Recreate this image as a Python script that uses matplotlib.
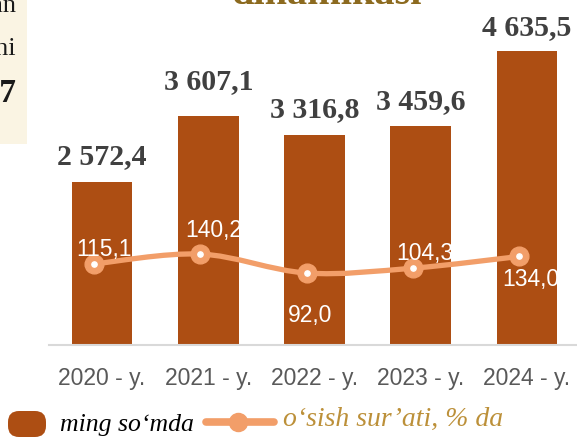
import matplotlib
matplotlib.use("Agg")
import matplotlib.pyplot as plt
from matplotlib.path import Path
from matplotlib.patches import PathPatch, FancyBboxPatch, Rectangle
from matplotlib.lines import Line2D
from matplotlib.transforms import IdentityTransform
import numpy as np

# Ma'lumotlar
years = ["2020 - y.", "2021 - y.", "2022 - y.", "2023 - y.", "2024 - y."]
amounts = [2572.4, 3607.1, 3316.8, 3459.6, 4635.5]   # ming so'mda
growth = [115.1, 140.2, 92.0, 104.3, 134.0]          # o'sish sur'ati, % da

amount_labels = ["2 572,4", "3 607,1", "3 316,8", "3 459,6", "4 635,5"]
growth_labels = ["115,1", "140,2", "92,0", "104,3", "134,0"]

BAR_COLOR = "#AD4E13"
LINE_COLOR = "#F29E69"
GOLD = "#BC9039"
SANS = "Liberation Sans"
SERIF = "Liberation Serif"

W, H = 577, 439
fig = plt.figure(figsize=(W / 100, H / 100), dpi=100)

# piksel -> figura koordinatalari
def fx(px):
    return px / W

def fy(py):
    return 1 - py / H

ax = fig.add_axes([fx(49), fy(346), fx(580) - fx(49), fy(29) - fy(346)])
x = np.arange(len(years))
ax.bar(x, amounts, width=0.57, color=BAR_COLOR, zorder=2)
ax.set_xlim(-0.5, 4.5)
ax.set_ylim(0, 5000)
for s in ["top", "left", "right"]:
    ax.spines[s].set_visible(False)
ax.spines["bottom"].set_color("#D9D9D9")
ax.spines["bottom"].set_linewidth(1.5)
ax.set_yticks([])
ax.set_xticks(x)
ax.set_xticklabels(years, family=SANS, fontsize=16.5, color="#595959")
ax.tick_params(axis="x", length=0, pad=15)

# ustun yorliqlari
bar_label_offsets = [26, 36, 26, 25, 25]
for i, (v, lab) in enumerate(zip(amounts, amount_labels)):
    ax.annotate(lab, (x[i], v), xytext=(0, bar_label_offsets[i] * 0.72),
                textcoords="offset points", ha="center", va="center",
                family=SERIF, fontweight="bold", fontsize=21.5, color="#404040")

# o'sish sur'ati chizig'i (ikkinchi o'q)
ax2 = ax.twinx()
ax2.set_ylim(-90.7, 714)
ax2.axis("off")
lx = x - 0.075

# silliq chiziq (Catmull-Rom -> Bezier)
pts = np.column_stack([lx, growth])
verts = [pts[0]]
codes = [Path.MOVETO]
for i in range(len(pts) - 1):
    p0 = pts[i - 1] if i > 0 else pts[i]
    p1 = pts[i]
    p2 = pts[i + 1]
    p3 = pts[i + 2] if i + 2 < len(pts) else pts[i + 1]
    verts += [p1 + (p2 - p0) / 6, p2 - (p3 - p1) / 6, p2]
    codes += [Path.CURVE4] * 3
ax2.add_patch(PathPatch(Path(verts, codes), fill=False, edgecolor=LINE_COLOR,
                        lw=3.8, capstyle="round", zorder=3))
ax2.plot(lx, growth, "o", ms=13.5, color=LINE_COLOR, zorder=4)
ax2.plot(lx, growth, "o", ms=3.8, color="white", zorder=5)

growth_offsets = [(10, -15), (13, -25), (4, 41), (12, -16), (12, 22)]
for i, (v, lab) in enumerate(zip(growth, growth_labels)):
    dx, dy = growth_offsets[i]
    ax2.annotate(lab, (lx[i], v), xytext=(dx * 0.72, -dy * 0.72),
                 textcoords="offset points", ha="center", va="center",
                 family=SANS, fontsize=16.5, color="white", zorder=6)

# chap tomondagi qirqilgan blok
fig.patches.append(Rectangle((0, fy(145)), fx(27), 1 - fy(145), transform=fig.transFigure,
                             facecolor="#FAF4E3", edgecolor="none", zorder=0))
fig.text(fx(16), fy(12), "daromadlar o‘sgan", ha="right", va="baseline",
         family=SERIF, fontsize=19, color="#1a1a1a")
fig.text(fx(16), fy(55), "o‘sishi", ha="right", va="baseline",
         family=SERIF, fontsize=19, color="#1a1a1a")
fig.text(fx(16), fy(102), "137", ha="right", va="baseline",
         family=SERIF, fontweight="bold", fontsize=24, color="#1a1a1a")

# qirqilgan sarlavha
fig.text(fx(327), fy(4), "dinamikasi", ha="center", va="baseline",
         family=SERIF, fontweight="bold", fontsize=29, color="#8C6A1F")

# legenda
fig.patches.append(FancyBboxPatch((8, H - 438), 38, 26,
                                  boxstyle="round,pad=0,rounding_size=11",
                                  transform=IdentityTransform(), facecolor=BAR_COLOR,
                                  edgecolor="none"))
fig.text(fx(60), fy(425), "ming so‘mda", ha="left", va="center",
         family=SERIF, style="italic", fontsize=18.5, color="black")
fig.lines.append(Line2D([fx(206), fx(274)], [fy(423), fy(423)], transform=fig.transFigure,
                        color=LINE_COLOR, lw=5.5, solid_capstyle="round"))
fig.lines.append(Line2D([fx(238)], [fy(423)], transform=fig.transFigure, marker="o",
                        ms=13, color=LINE_COLOR))
fig.text(fx(283), fy(419), "o‘sish sur’ati, % da", ha="left", va="center",
         family=SERIF, style="italic", fontsize=20, color=GOLD)

fig.savefig("out.png", dpi=100)
